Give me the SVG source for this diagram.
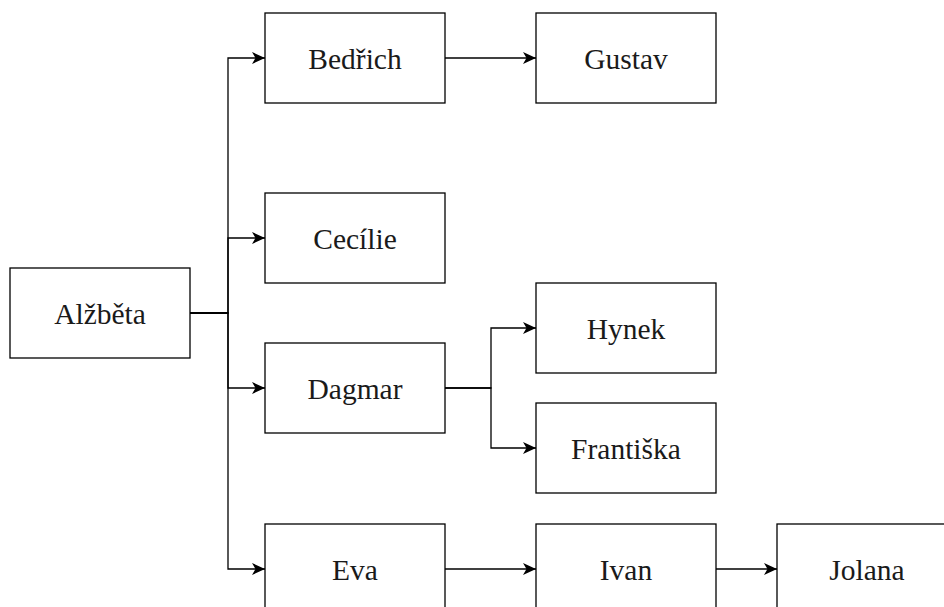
<svg xmlns="http://www.w3.org/2000/svg" width="944" height="607" viewBox="0 0 944 607">
<style>
.box{fill:#fff;stroke:#000;stroke-width:1.3}
.lbl{font-family:'Liberation Serif','DejaVu Serif',serif;font-size:29.5px;fill:#1a1a1a;text-anchor:middle}
.edge{fill:none;stroke:#000;stroke-width:1.3}
</style>
<defs>
<marker id="arr" markerUnits="userSpaceOnUse" markerWidth="16" markerHeight="14" viewBox="-15 -7 16 14" refX="0" refY="0" orient="auto">
<path d="M0,0 L-13,-6 L-9.5,0 L-13,6 Z" fill="#000"/>
</marker>
</defs>
<rect width="944" height="607" fill="#fff"/>
<g id="connectors">
<path class="edge" d="M190,313 H228 V58 H265" marker-end="url(#arr)"/>
<path class="edge" d="M190,313 H228 V238 H265" marker-end="url(#arr)"/>
<path class="edge" d="M190,313 H228 V388 H265" marker-end="url(#arr)"/>
<path class="edge" d="M190,313 H228 V569 H265" marker-end="url(#arr)"/>
<path class="edge" d="M445,58 H536" marker-end="url(#arr)"/>
<path class="edge" d="M445,388 H491 V328 H536" marker-end="url(#arr)"/>
<path class="edge" d="M445,388 H491 V448 H536" marker-end="url(#arr)"/>
<path class="edge" d="M445,569 H536" marker-end="url(#arr)"/>
<path class="edge" d="M716,569 H777" marker-end="url(#arr)"/>
</g>
<g id="alzbeta"><rect class="box" x="10" y="268" width="180" height="90"/><text class="lbl" font-family="Liberation Serif" x="100" y="323.5">Alžběta</text></g>
<g id="bedrich"><rect class="box" x="265" y="13" width="180" height="90"/><text class="lbl" font-family="Liberation Serif" x="355" y="68.5">Bedřich</text></g>
<g id="gustav"><rect class="box" x="536" y="13" width="180" height="90"/><text class="lbl" font-family="Liberation Serif" x="626" y="68.5">Gustav</text></g>
<g id="cecilie"><rect class="box" x="265" y="193" width="180" height="90"/><text class="lbl" font-family="Liberation Serif" x="355" y="248.5">Cecílie</text></g>
<g id="dagmar"><rect class="box" x="265" y="343" width="180" height="90"/><text class="lbl" font-family="Liberation Serif" x="355" y="398.5">Dagmar</text></g>
<g id="hynek"><rect class="box" x="536" y="283" width="180" height="90"/><text class="lbl" font-family="Liberation Serif" x="626" y="338.5">Hynek</text></g>
<g id="frantiska"><rect class="box" x="536" y="403" width="180" height="90"/><text class="lbl" font-family="Liberation Serif" x="626" y="458.5">Františka</text></g>
<g id="eva"><rect class="box" x="265" y="524" width="180" height="90"/><text class="lbl" font-family="Liberation Serif" x="355" y="579.5">Eva</text></g>
<g id="ivan"><rect class="box" x="536" y="524" width="180" height="90"/><text class="lbl" font-family="Liberation Serif" x="626" y="579.5">Ivan</text></g>
<g id="jolana"><rect class="box" x="777" y="524" width="180" height="90"/><text class="lbl" font-family="Liberation Serif" x="867" y="579.5">Jolana</text></g>
</svg>
